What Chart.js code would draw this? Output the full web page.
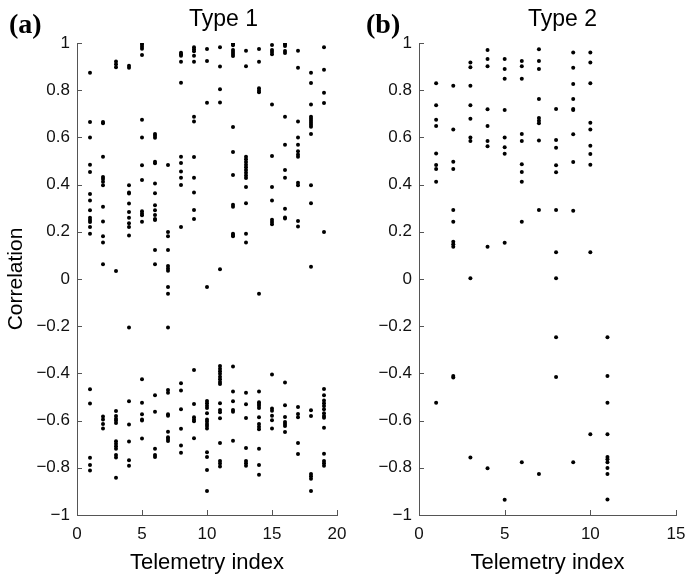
<!DOCTYPE html>
<html>
<head>
<meta charset="utf-8">
<title>Correlation by telemetry index</title>
<script src="https://cdn.jsdelivr.net/npm/chart.js@4.4.0/dist/chart.umd.min.js"></script>
<style>
  html, body { margin: 0; padding: 0; background: #fff; }
  .wrap { position: relative; width: 687px; height: 580px; overflow: hidden; }
  canvas { position: absolute; top: 0; }
  #c1 { left: 0; }
  #c2 { left: 345px; }
  .lbl { position: absolute; line-height: 1; white-space: nowrap; color: #000; }
  .panel { font-family: "Liberation Serif", "Times New Roman", serif; font-weight: bold; font-size: 28px; }
  .title { font-family: "Liberation Sans", Arial, sans-serif; font-size: 23px; }
</style>
</head>
<body>
<div class="wrap">
  <canvas id="c1" width="350" height="580"></canvas>
  <canvas id="c2" width="342" height="580"></canvas>
  <div class="lbl panel" style="left:9px;top:10px">(a)</div>
  <div class="lbl title" style="left:189px;top:7px">Type 1</div>
  <div class="lbl panel" style="left:366px;top:10px">(b)</div>
  <div class="lbl title" style="left:528px;top:7px">Type 2</div>
</div>
<script>
  // telemetry index -> correlations
  var type1Index = [1, 2, 3, 4, 5, 6, 7, 8, 9, 10, 11, 12, 13, 14, 15, 16, 17, 18, 19];
  var type1Corr = [
    [0.874, 0.665, 0.600, 0.484, 0.453, 0.360, 0.333, 0.291, 0.260, 0.250, 0.242, 0.220, 0.192, -0.467, -0.528, -0.757, -0.788, -0.811],
    [0.665, 0.660, 0.518, 0.432, 0.424, 0.412, 0.397, 0.306, 0.244, 0.181, 0.155, 0.062, -0.583, -0.595, -0.614, -0.633],
    [0.922, 0.910, 0.897, 0.034, -0.559, -0.580, -0.592, -0.600, -0.610, -0.688, -0.698, -0.709, -0.719, -0.746, -0.756, -0.842],
    [0.904, 0.895, 0.397, 0.367, 0.362, 0.320, 0.284, 0.260, 0.236, 0.220, 0.184, -0.206, -0.518, -0.617, -0.689, -0.768, -0.791],
    [1.0, 0.993, 0.984, 0.976, 0.949, 0.675, 0.600, 0.482, 0.419, 0.287, 0.278, 0.270, 0.243, -0.425, -0.524, -0.573, -0.595, -0.600, -0.676],
    [0.614, 0.607, 0.599, 0.497, 0.490, 0.405, 0.363, 0.313, 0.291, 0.271, 0.254, 0.250, 0.123, 0.062, -0.493, -0.563, -0.719, -0.746, -0.754],
    [0.483, 0.199, 0.181, 0.123, 0.055, 0.045, 0.035, -0.034, -0.062, -0.206, -0.470, -0.482, -0.573, -0.579, -0.647, -0.671, -0.678, -0.686],
    [0.959, 0.952, 0.946, 0.921, 0.832, 0.518, 0.491, 0.455, 0.429, 0.398, 0.220, -0.442, -0.472, -0.552, -0.635, -0.705, -0.736],
    [0.982, 0.973, 0.965, 0.946, 0.921, 0.688, 0.667, 0.517, 0.429, 0.366, 0.292, 0.254, -0.386, -0.530, -0.586, -0.595, -0.603, -0.675],
    [0.975, 0.924, 0.747, -0.034, -0.517, -0.527, -0.537, -0.547, -0.569, -0.595, -0.604, -0.614, -0.623, -0.633, -0.734, -0.754, -0.809, -0.898],
    [0.982, 0.900, 0.804, 0.748, 0.041, -0.369, -0.380, -0.391, -0.402, -0.414, -0.425, -0.436, -0.445, -0.527, -0.555, -0.565, -0.590, -0.695, -0.771, -0.782, -0.794],
    [1.0, 0.996, 0.990, 0.970, 0.962, 0.953, 0.945, 0.644, 0.538, 0.441, 0.315, 0.306, 0.192, 0.186, 0.181, -0.371, -0.477, -0.518, -0.555, -0.563, -0.685],
    [0.967, 0.902, 0.518, 0.507, 0.496, 0.484, 0.473, 0.462, 0.450, 0.439, 0.428, 0.390, 0.321, 0.192, 0.155, -0.482, -0.531, -0.589, -0.716, -0.771, -0.781, -0.791],
    [0.975, 0.921, 0.808, 0.799, 0.791, -0.062, -0.477, -0.522, -0.530, -0.537, -0.547, -0.586, -0.614, -0.626, -0.637, -0.719, -0.788, -0.829],
    [0.991, 0.970, 0.962, 0.952, 0.739, 0.521, 0.390, 0.333, 0.251, 0.241, 0.232, -0.405, -0.549, -0.558, -0.579, -0.599, -0.633],
    [1.0, 0.994, 0.987, 0.966, 0.958, 0.688, 0.569, 0.462, 0.429, 0.298, 0.261, 0.256, -0.439, -0.535, -0.585, -0.606, -0.614, -0.623, -0.648],
    [0.967, 0.895, 0.667, 0.600, 0.569, 0.541, 0.528, 0.518, 0.408, 0.397, 0.246, 0.222, -0.542, -0.572, -0.586, -0.695, -0.741],
    [0.874, 0.830, 0.739, 0.688, 0.679, 0.671, 0.662, 0.654, 0.645, 0.614, 0.397, 0.321, 0.052, -0.556, -0.580, -0.826, -0.836, -0.846, -0.898],
    [0.982, 0.887, 0.789, 0.746, 0.199, -0.466, -0.493, -0.515, -0.527, -0.538, -0.552, -0.569, -0.580, -0.588, -0.630, -0.740, -0.771, -0.781, -0.791]
  ];

  var type2Index = [1, 2, 3, 4, 5, 6, 7, 8, 9, 10, 11];
  var type2Corr = [
    [0.829, 0.736, 0.675, 0.648, 0.532, 0.483, 0.466, 0.412, -0.524],
    [0.819, 0.634, 0.497, 0.466, 0.292, 0.243, 0.158, 0.147, 0.137, -0.411, -0.417],
    [0.917, 0.897, 0.819, 0.736, 0.679, 0.600, 0.585, 0.003, -0.756],
    [0.970, 0.932, 0.902, 0.719, 0.648, 0.585, 0.563, 0.137, -0.802],
    [0.932, 0.890, 0.849, 0.716, 0.600, 0.558, 0.531, 0.154, -0.935],
    [0.924, 0.902, 0.849, 0.614, 0.585, 0.486, 0.453, 0.412, 0.243, -0.777],
    [0.973, 0.924, 0.890, 0.763, 0.682, 0.671, 0.660, 0.587, 0.292, -0.826],
    [0.720, 0.589, 0.556, 0.482, 0.452, 0.292, 0.113, 0.003, -0.247, -0.415],
    [0.960, 0.895, 0.826, 0.763, 0.720, 0.716, 0.613, 0.496, 0.289, -0.777],
    [0.960, 0.917, 0.829, 0.662, 0.634, 0.565, 0.530, 0.484, 0.113, -0.658],
    [-0.247, -0.411, -0.524, -0.658, -0.754, -0.764, -0.777, -0.801, -0.826, -0.934]
  ];

  var type1XTicks = [0, 5, 10, 15, 20];
  var type2XTicks = [0, 5, 10, 15];
  var corrTicks = [-1, -0.8, -0.6, -0.4, -0.2, 0, 0.2, 0.4, 0.6, 0.8, 1];

  var FONT = '"Liberation Sans", Arial, Helvetica, sans-serif';
  var AXIS = '#555';

  function toPoints(idx, corr) {
    var pts = [];
    idx.forEach(function(x, i) {
      corr[i].forEach(function(y) { pts.push({ x: x, y: y }); });
    });
    return pts;
  }

  function fmtTick(v) {
    var r = Math.round(v * 10) / 10;
    return r < 0 ? '\u2212' + String(-r) : String(r);
  }

  // matlab style ticks pointing into the plot
  var inwardTicks = {
    id: 'inwardTicks',
    afterDraw: function(chart) {
      var ctx = chart.ctx, a = chart.chartArea;
      var xs = chart.scales.x, ys = chart.scales.y;
      ctx.save();
      ctx.strokeStyle = AXIS;
      ctx.lineWidth = 1;
      ctx.beginPath();
      xs.ticks.forEach(function(t) {
        var px = Math.round(xs.getPixelForValue(t.value)) + 0.5;
        ctx.moveTo(px, a.bottom);
        ctx.lineTo(px, a.bottom - 5);
      });
      ys.ticks.forEach(function(t) {
        var py = Math.round(ys.getPixelForValue(t.value)) + 0.5;
        ctx.moveTo(a.left, py);
        ctx.lineTo(a.left + 5, py);
      });
      ctx.stroke();
      ctx.restore();
    }
  };

  function makeChart(id, idx, corr, xTicks, yWidth, showYTitle, padRight) {
    var ctx = document.getElementById(id).getContext('2d');
    return new Chart(ctx, {
      type: 'scatter',
      data: {
        datasets: [{
          data: toPoints(idx, corr),
          pointRadius: 2,
          pointHoverRadius: 2,
          pointBackgroundColor: '#000',
          pointBorderWidth: 0,
          showLine: false
        }]
      },
      options: {
        responsive: false,
        animation: false,
        events: [],
        layout: { padding: { top: 43, right: padRight, left: 0, bottom: 0 } },
        plugins: { legend: { display: false }, tooltip: { enabled: false } },
        scales: {
          x: {
            type: 'linear',
            min: xTicks[0],
            max: xTicks[xTicks.length - 1],
            afterBuildTicks: function(s) { s.ticks = xTicks.map(function(v) { return { value: v }; }); },
            afterFit: function(s) { s.height = 65; s.paddingLeft = 0; s.paddingRight = 0; },
            border: { color: AXIS, width: 1 },
            grid: { drawOnChartArea: false, drawTicks: false },
            ticks: { padding: 9, color: '#111', font: { family: FONT, size: 17 }, maxRotation: 0, callback: fmtTick },
            title: { display: true, text: 'Telemetry index', color: '#000', font: { family: FONT, size: 22 }, padding: { top: 0, bottom: 4 } }
          },
          y: {
            type: 'linear',
            min: -1,
            max: 1,
            afterBuildTicks: function(s) { s.ticks = corrTicks.map(function(v) { return { value: v }; }); },
            afterFit: function(s) { s.width = yWidth; },
            border: { color: AXIS, width: 1 },
            grid: { drawOnChartArea: false, drawTicks: false },
            ticks: { padding: 7, color: '#111', font: { family: FONT, size: 17 }, callback: fmtTick },
            title: { display: showYTitle, text: 'Correlation', color: '#000', font: { family: FONT, size: 21 }, padding: { top: 4, bottom: 0 } }
          }
        }
      },
      plugins: [inwardTicks]
    });
  }

  makeChart('c1', type1Index, type1Corr, type1XTicks, 77, true, 13);
  makeChart('c2', type2Index, type2Corr, type2XTicks, 74, false, 11);
</script>
</body>
</html>
